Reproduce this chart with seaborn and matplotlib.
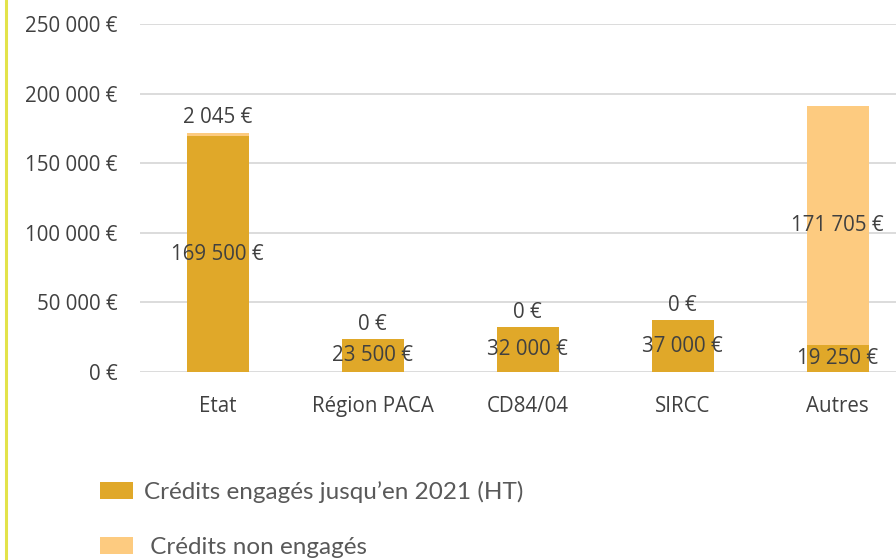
import matplotlib
matplotlib.use("Agg")
import matplotlib.pyplot as plt
from matplotlib.lines import Line2D
from matplotlib.patches import Patch
import numpy as np
import pandas as pd
import seaborn as sns

# Data -------------------------------------------------------------------------
categories = ["Etat", "Région PACA", "CD84/04", "SIRCC", "Autres"]
engages = [169500, 23500, 32000, 37000, 19250]
non_engages = [2045, 0, 0, 0, 171705]
y_ticks = [0, 50000, 100000, 150000, 200000, 250000]
legend_labels = ["Crédits engagés jusqu\u2019en 2021 (HT)", " Crédits non engagés"]

dark = "#E0A829"
light = "#FDCB80"
txt = "#404040"


def euro(v):
    return "{:,}".format(int(v)).replace(",", " ") + " €"


df = pd.DataFrame({"cat": categories, "eng": engages, "non": non_engages})
df["total"] = df["eng"] + df["non"]

sns.set_theme(style="white")
plt.rcParams["font.family"] = ["Open Sans", "DejaVu Sans"]

fig = plt.figure(figsize=(8.96, 5.6), dpi=100)
ax = fig.add_axes([140 / 896, 1 - 372 / 560, 775 / 896, 348 / 560])

sns.barplot(data=df, x="cat", y="total", color=light, width=0.4,
            saturation=1, linewidth=0, ax=ax, zorder=3)
sns.barplot(data=df, x="cat", y="eng", color=dark, width=0.4,
            saturation=1, linewidth=0, ax=ax, zorder=4)

fs = 14.8
ax.set_xlim(-0.5, 4.5)
ax.set_ylim(0, 250000)
ax.set_yticks(y_ticks)
ax.set_yticklabels([euro(v) for v in y_ticks], fontsize=fs, color=txt)
ax.set_xticks(range(len(categories)))
ax.set_xticklabels(categories, fontsize=fs, color=txt)
ax.tick_params(axis="y", length=0, pad=16)
ax.tick_params(axis="x", length=0, pad=17)
ax.set_xlabel("")
ax.set_ylabel("")
ax.grid(axis="y", color="#D9D9D9", linewidth=1.3, zorder=0)
ax.set_axisbelow(True)
for s in ax.spines.values():
    s.set_visible(False)

# data labels
for i, row in df.iterrows():
    ax.text(i, row["eng"] / 2, euro(row["eng"]), ha="center", va="center",
            fontsize=fs, color=txt, zorder=6)
    if row["non"] > 20000:
        ax.text(i, row["eng"] + row["non"] / 2, euro(row["non"]), ha="center",
                va="center", fontsize=fs, color=txt, zorder=6)
    else:
        ax.annotate(euro(row["non"]), (i, row["total"]), xytext=(0, 11),
                    textcoords="offset points", ha="center", va="center",
                    fontsize=fs, color=txt, zorder=6)

# legend
handles = [Patch(facecolor=dark, edgecolor="none"),
           Patch(facecolor=light, edgecolor="none")]
fig.legend(handles, legend_labels, loc="upper left",
           bbox_to_anchor=(78 / 896, 1 - 459 / 560), frameon=False,
           prop={"family": ["Lato", "DejaVu Sans"], "size": 17.5},
           labelcolor="#595959", handlelength=1.35, handleheight=0.75,
           handletextpad=0.45, labelspacing=1.38)

# yellow side line
fig.add_artist(Line2D([6 / 896, 6 / 896], [0, 1], color="#E3E34A",
                      linewidth=2.2, transform=fig.transFigure))

fig.savefig("out.png", dpi=100)
